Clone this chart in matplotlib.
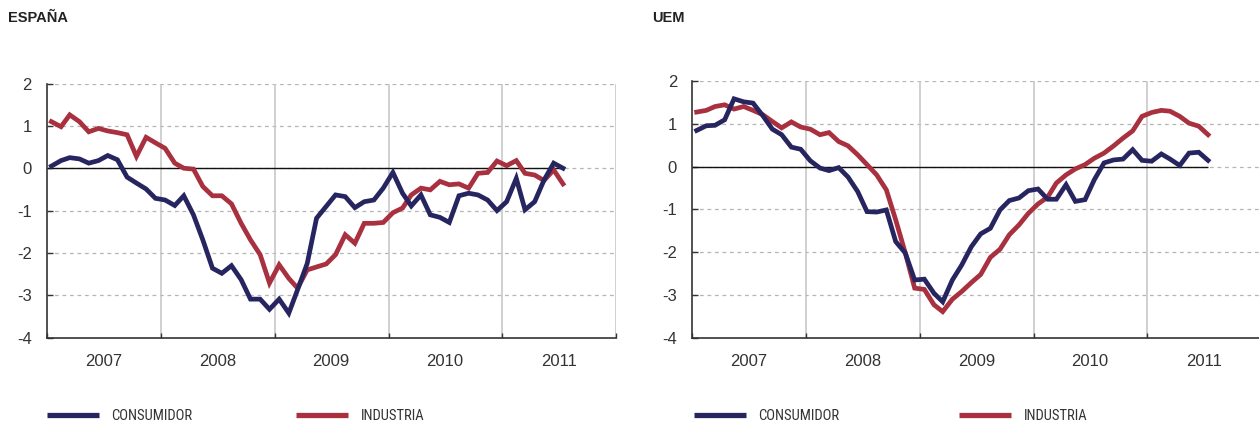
import numpy as np
import pandas as pd
import matplotlib
matplotlib.use('Agg')
import matplotlib.pyplot as plt
import matplotlib.dates as mdates
from matplotlib.lines import Line2D
from matplotlib import font_manager

#%%###########################################################################
# data (monthly, Jan 2007 - Jul 2011)
meses = pd.date_range('2007-01-01', periods=55, freq='MS') + pd.Timedelta(days=14)

esp_consumidor = [0.05, 0.18, 0.25, 0.22, 0.12, 0.18, 0.30, 0.20, -0.21, -0.35,
                  -0.49, -0.71, -0.75, -0.88, -0.65, -1.10, -1.69, -2.36, -2.48, -2.30,
                  -2.63, -3.09, -3.09, -3.33, -3.09, -3.42, -2.87, -2.25, -1.18, -0.90,
                  -0.63, -0.67, -0.93, -0.79, -0.75, -0.47, -0.10, -0.59, -0.89, -0.63,
                  -1.10, -1.16, -1.28, -0.65, -0.59, -0.63, -0.75, -1.00, -0.79, -0.24,
                  -0.98, -0.79, -0.28, 0.12, 0.00]
esp_industria = [1.10, 0.98, 1.26, 1.10, 0.86, 0.94, 0.88, 0.84, 0.79, 0.28,
                 0.73, 0.60, 0.47, 0.12, 0.00, -0.02, -0.43, -0.65, -0.65, -0.84,
                 -1.30, -1.69, -2.04, -2.71, -2.28, -2.60, -2.83, -2.40, -2.33, -2.26,
                 -2.04, -1.57, -1.77, -1.30, -1.30, -1.28, -1.05, -0.94, -0.63, -0.47,
                 -0.51, -0.31, -0.39, -0.37, -0.47, -0.12, -0.10, 0.17, 0.06, 0.18,
                 -0.12, -0.16, -0.29, -0.04, -0.37]
uem_consumidor = [0.85, 0.96, 0.97, 1.10, 1.59, 1.52, 1.49, 1.20, 0.88, 0.75,
                  0.46, 0.41, 0.14, -0.03, -0.09, -0.02, -0.24, -0.58, -1.05, -1.06,
                  -1.01, -1.75, -2.02, -2.65, -2.63, -2.96, -3.16, -2.65, -2.30, -1.87,
                  -1.57, -1.44, -1.01, -0.79, -0.73, -0.56, -0.52, -0.76, -0.76, -0.42,
                  -0.81, -0.77, -0.30, 0.09, 0.16, 0.18, 0.40, 0.15, 0.13, 0.30,
                  0.18, 0.03, 0.32, 0.34, 0.15]
uem_industria = [1.28, 1.32, 1.41, 1.45, 1.35, 1.41, 1.32, 1.22, 1.06, 0.91,
                 1.05, 0.93, 0.88, 0.75, 0.80, 0.59, 0.49, 0.28, 0.05, -0.19,
                 -0.54, -1.24, -2.02, -2.84, -2.87, -3.23, -3.39, -3.10, -2.92, -2.71,
                 -2.52, -2.12, -1.93, -1.59, -1.36, -1.09, -0.87, -0.71, -0.38, -0.19,
                 -0.05, 0.05, 0.20, 0.32, 0.49, 0.67, 0.84, 1.18, 1.27, 1.32,
                 1.30, 1.18, 1.02, 0.95, 0.75]

titulos = ['ESPAÑA', 'UEM']
series = ['CONSUMIDOR', 'INDUSTRIA']
yticks = [-4, -3, -2, -1, 0, 1, 2]

#%%###########################################################################
# styles
c_cons = '#27255f'
c_ind = '#a8303f'
c_txt = '#333333'
installed = {f.name for f in font_manager.fontManager.ttflist}
f_main = 'Liberation Sans' if 'Liberation Sans' in installed else 'DejaVu Sans'
f_narrow = f_main
for nm in ['Liberation Sans Narrow', 'Roboto Condensed', 'Open Sans Condensed']:
    if nm in installed:
        f_narrow = nm
        break
plt.rcParams['font.family'] = f_main

W, H = 1259, 425
fig = plt.figure(figsize=(W/100, H/100), dpi=100)

ax_pos = [[47/W, (H-337.7)/H, 569/W, 254.2/H],
          [692.3/W, (H-337.7)/H, 568.7/W, 256.4/H]]
datos = [(esp_consumidor, esp_industria), (uem_consumidor, uem_industria)]
tit_x = [8, 652]
# legend line start (px) for each panel: consumidor, industria
leg_x = [[46.7, 295.7], [693.7, 958.6]]

for k in range(2):
    ax = fig.add_axes(ax_pos[k])
    cons, ind = datos[k]
    x0, x1 = pd.Timestamp('2007-01-01'), pd.Timestamp('2012-01-01')
    ax.set_xlim(x0, x1)
    ax.set_ylim(-4, 2)

    # grids
    for y in yticks[1:]:
        ax.axhline(y, color='#b5b5b5', lw=0.9, ls=(0, (3, 3)), zorder=1)
    for yr in range(2008, 2013):
        ax.axvline(pd.Timestamp(f'{yr}-01-01'), color='#c4c4c4', lw=1.1, zorder=1)
    ax.hlines(0, x0, meses[-1], color='#111111', lw=1.0, zorder=2)

    ax.plot(meses, cons, color=c_cons, lw=3.4, zorder=4, solid_joinstyle='miter')
    ax.plot(meses, ind, color=c_ind, lw=3.4, zorder=3, solid_joinstyle='miter')

    for s in ['top', 'right']:
        ax.spines[s].set_visible(False)
    for s in ['left', 'bottom']:
        ax.spines[s].set_color(c_txt)
        ax.spines[s].set_linewidth(1.2)

    ax.set_yticks(yticks)
    ax.set_yticklabels([str(v) for v in yticks])
    ax.tick_params(axis='y', direction='in', length=4, width=1, color=c_txt,
                   labelsize=12, labelcolor=c_txt, pad=11)
    ax.xaxis.set_major_locator(mdates.YearLocator())
    ax.xaxis.set_major_formatter(plt.NullFormatter())
    ax.xaxis.set_minor_locator(mdates.MonthLocator(bymonth=7, bymonthday=1))
    ax.xaxis.set_minor_formatter(mdates.DateFormatter('%Y'))
    ax.tick_params(axis='x', which='major', direction='in', length=3.5, width=1, color=c_txt)
    ax.tick_params(axis='x', which='minor', length=0, labelsize=12, labelcolor=c_txt, pad=12)

    fig.text(tit_x[k]/W, 1-22/H, titulos[k], fontsize=10.5, fontweight='bold',
             color='#222222', va='baseline', ha='left')

    # legend entries
    for j, col in enumerate([c_cons, c_ind]):
        h = Line2D([], [], color=col, lw=3.8, solid_capstyle='butt')
        lg = fig.legend([h], [series[j]], loc='center left',
                        bbox_to_anchor=(leg_x[k][j]/W, 1-416/H), frameon=False,
                        borderpad=0, borderaxespad=0, handlelength=3.6, handletextpad=0.85,
                        prop={'family': f_narrow, 'size': 10.5})
        for t in lg.get_texts():
            t.set_color(c_txt)

fig.savefig('out.png', dpi=100)
